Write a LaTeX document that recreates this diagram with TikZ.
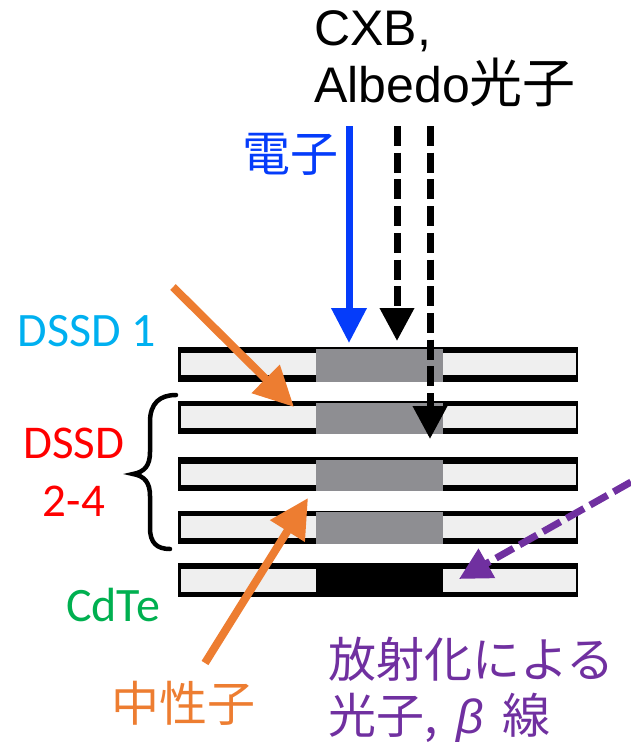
\documentclass[tikz,border=0pt]{standalone}
\usepackage{fontspec}
\setmainfont{Carlito}
\newfontfamily\cjk{Noto Sans CJK JP}
\newfontfamily\hel{Liberation Sans}
\usetikzlibrary{arrows.meta}
\definecolor{elecblue}{RGB}{5,60,250}
\definecolor{dssdcyan}{RGB}{0,176,240}
\definecolor{neutorange}{RGB}{237,125,49}
\definecolor{radpurple}{RGB}{112,48,160}
\definecolor{cdtegreen}{RGB}{0,176,80}
\definecolor{activegray}{RGB}{142,142,146}
\definecolor{layergray}{RGB}{239,239,239}
\tikzset{
  lbl/.style={inner sep=0pt,font=\fontsize{48}{48}\selectfont},
  cjklbl/.style={inner sep=0pt,font=\fontsize{48}{48}\selectfont\cjk},
  hellbl/.style={inner sep=0pt,anchor=base west,font=\fontsize{50}{50}\selectfont\hel},
  beam/.style={line width=7pt,dash pattern=on 20pt off 6.7pt},
  slant/.style={line width=8pt}
}
\begin{document}
\begin{tikzpicture}[x=1pt,y=-1pt]
\useasboundingbox (0,0) rectangle (631,742);
\fill (178,347) rectangle (578,382);
\fill (178,401) rectangle (578,434);
\fill (178,457) rectangle (578,491);
\fill (178,511) rectangle (578,544);
\fill (178,563) rectangle (578,597);
\fill[layergray] (181,353) rectangle (576,375);
\fill[layergray] (181,406) rectangle (576,428);
\fill[layergray] (181,464) rectangle (576,485);
\fill[layergray] (181,516) rectangle (576,538);
\fill[layergray] (181,569) rectangle (576,592);
\fill[activegray] (316,349) rectangle (443,382);
\fill[activegray] (316,403) rectangle (443,434);
\fill[activegray] (316,460) rectangle (443,491);
\fill[activegray] (316,512) rectangle (443,544);
\fill (316,564) rectangle (443,597);
\node[hellbl] (cxb) at (314,45) {CXB,};
\node[hellbl] (alb) at (314,102) {Albedo{\fontsize{53}{53}\selectfont\cjk 光子}};
\node[cjklbl,text=elecblue] (den) at (290,154) {電子};
\node[lbl,text=dssdcyan] (d1) at (87,331) {DSSD 1};
\node[lbl,text=red,align=center,font=\fontsize{47}{58}\selectfont] (d24) at (74,472) {DSSD\\2-4};
\node[lbl,text=cdtegreen] (cd) at (113,605) {CdTe};
\node[cjklbl,text=neutorange] (chu) at (183,703) {中性子};
\node[cjklbl,text=radpurple,anchor=west] (ho) at (328,659) {放射化による};
\node[cjklbl,text=radpurple,anchor=west] (ko) at (328,718) {光子, \,{\hel\itshape β}\, 線};
\coordinate (e0) at (349,126);
\coordinate (x0) at (397,126);
\coordinate (y0) at (430,126);
\coordinate (n0) at (173,287);
\coordinate (m0) at (205,663);
\coordinate (p0) at (631,482);
\draw[line width=7pt,elecblue,-{Triangle[length=35pt,width=34pt]}] (e0) -- (349,343);
\draw[beam,-{Triangle[length=33pt,width=33pt]}] (x0) -- (397,341);
\draw[beam,-{Triangle[length=33pt,width=33pt]}] (y0) -- (430,439);
\draw[slant,neutorange,-{Triangle[length=40pt,width=38pt]}] (n0) -- (294,407);
\draw[slant,neutorange,-{Triangle[length=39pt,width=39pt]}] (m0) -- (308,498);
\draw[line width=7pt,radpurple,dash pattern=on 20pt off 7pt,-{Triangle[length=32pt,width=32pt]}] (p0) -- (459,579);
\draw[line width=4.5pt,line cap=round] (176,395) .. controls (160,395) and (150,403) .. (150,422) -- (150,452) .. controls (150,465) and (145,472) .. (133,474) .. controls (145,476) and (150,483) .. (150,496) -- (150,528) .. controls (150,543) and (157,549) .. (170,549);
\end{tikzpicture}
\end{document}
